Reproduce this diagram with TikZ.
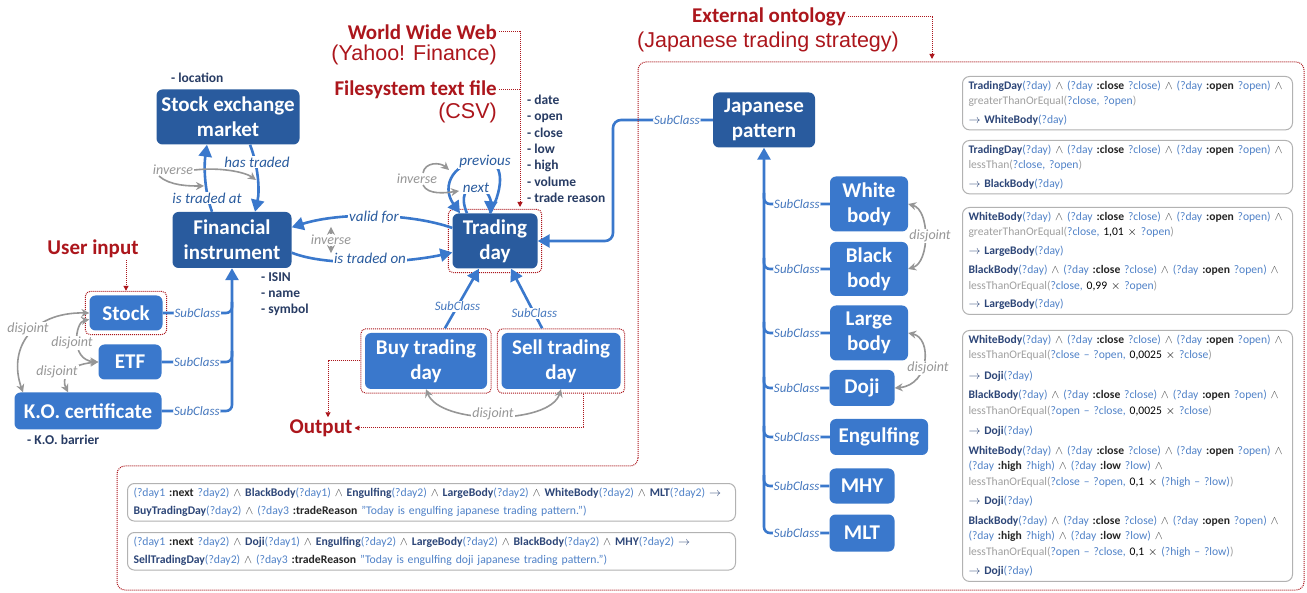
\documentclass[tikz,border=0pt]{standalone}
\usepackage{fontspec}
\setmainfont{Carlito}
\newfontfamily\arialfont{Liberation Sans}
\usetikzlibrary{arrows.meta,fit}

\definecolor{clsdark}{RGB}{41,91,158}
\definecolor{clsmid}{RGB}{58,120,204}
\definecolor{linkblue}{RGB}{58,120,204}
\definecolor{labelblue}{RGB}{70,120,190}
\definecolor{srcred}{RGB}{172,22,28}
\definecolor{hintgray}{RGB}{150,150,150}
\definecolor{attrnavy}{RGB}{40,60,100}
\definecolor{rulenavy}{RGB}{45,70,120}
\definecolor{rulevar}{RGB}{80,130,200}
\definecolor{rulegray}{RGB}{160,160,160}

\newcommand{\rlcls}[1]{{\color{rulenavy}\bfseries #1}}
\newcommand{\rlvar}[1]{{\color{rulevar}#1}}
\newcommand{\rlbin}[1]{{\color{rulegray}#1}}
\newcommand{\rlprop}[1]{{\color{black!85}\bfseries #1}}
\newcommand{\rland}{{\color{black!70}$\wedge$}}
\newcommand{\rlto}{{\color{rulenavy}$\rightarrow$}}
\newcommand{\rlclop}{\rland{} \rlvar{(?day} \rlprop{:close} \rlvar{?close)} \rland{} \rlvar{(?day} \rlprop{:open} \rlvar{?open)} \rland}
\newcommand{\rlhilo}{\rlvar{(?day} \rlprop{:high} \rlvar{?high)} \rland{} \rlvar{(?day} \rlprop{:low} \rlvar{?low)} \rland}

\tikzset{
  dcls/.style={rounded corners=6pt, fill=clsdark, text=white, align=center, inner sep=2pt,
    font=\fontsize{21}{25}\selectfont\bfseries},
  mcls/.style={dcls, fill=clsmid},
  bline/.style={draw=linkblue, line width=2.6pt, >={Triangle[length=12pt,width=13pt]}},
  slabel/.style={fill=white, text=labelblue, inner sep=1pt, font=\fontsize{12.9}{14}\selectfont\itshape},
  plabel/.style={fill=white, text=clsdark, inner sep=1pt, font=\fontsize{15}{17}\selectfont\itshape},
  ilabel/.style={fill=white, text=hintgray, inner sep=1pt, font=\fontsize{14}{16}\selectfont\itshape},
  gline/.style={draw=hintgray, line width=1.6pt, >={Stealth[length=8pt,width=8pt]}},
  reddot/.style={draw=srcred, densely dotted, line width=1pt, >={Triangle[length=5pt,width=5pt]}},
  redframe/.style={draw=srcred, densely dotted, line width=1pt, rounded corners=5pt, inner sep=4pt},
  redtitle/.style={text=srcred, inner sep=2pt, font=\fontsize{21}{24}\selectfont\bfseries},
  redsub/.style={text=srcred, inner sep=2pt, font=\arialfont\fontsize{21.5}{24}\selectfont},
  attr/.style={text=attrnavy, align=left, inner sep=0pt, font=\fontsize{13.5}{16.3}\selectfont\bfseries},
  rulebox/.style={draw=gray!60, line width=1pt, rounded corners=7pt, fill=white, align=left,
    text width=318pt, inner xsep=6pt, inner ysep=4.5pt, font=\fontsize{11.6}{15.5}\selectfont},
}

\begin{document}
\begin{tikzpicture}[x=1pt,y=-1pt]
\fill[white] (0,0) rectangle (1307,593);
\useasboundingbox (0,0) rectangle (1307,593);

\node[dcls, minimum width=143pt, minimum height=55pt] (sem) at (228,117) {Stock exchange\\market};
\node[dcls, minimum width=119pt, minimum height=56pt] (fi) at (232,240) {Financial\\instrument};
\node[mcls, minimum width=73pt, minimum height=35pt] (stock) at (126,313) {Stock};
\node[mcls, minimum width=63pt, minimum height=35pt] (etf) at (130,362) {ETF};
\node[mcls, minimum width=147pt, minimum height=37pt] (ko) at (88,411) {K.O. certificate};
\node[dcls, minimum width=85pt, minimum height=55pt] (td) at (495,241) {Trading\\day};
\node[mcls, minimum width=122pt, minimum height=56pt] (buy) at (426,361) {Buy trading\\day};
\node[mcls, minimum width=119pt, minimum height=56pt] (sell) at (561,361) {Sell trading\\day};

\node[dcls, minimum width=102pt, minimum height=55pt] (jp) at (764,120) {Japanese\\pattern};
\node[mcls, minimum width=78pt, minimum height=55pt] (wb) at (869,204) {White\\body};
\node[mcls, minimum width=78pt, minimum height=54pt] (bb) at (869,269) {Black\\body};
\node[mcls, minimum width=78pt, minimum height=55pt] (lb) at (869,333) {Large\\body};
\node[mcls, minimum width=65pt, minimum height=36pt] (doji) at (862,388) {Doji};
\node[mcls, minimum width=98pt, minimum height=36pt] (eng) at (879,437) {Engulfing};
\node[mcls, minimum width=65pt, minimum height=35pt] (mhy) at (862,486) {MHY};
\node[mcls, minimum width=65pt, minimum height=37pt] (mlt) at (862,533) {MLT};

\node[redframe, fit=(stock)] (stockfr) {};
\node[redframe, fit=(td)] (tdfr) {};
\node[redframe, fit=(buy)] (buyfr) {};
\node[redframe, fit=(sell)] (sellfr) {};

\node[attr, anchor=north west] (semattr) at (171,73) {- location};
\node[attr, anchor=north west] (fiattr) at (261,272) {- ISIN\\- name\\- symbol};
\node[attr, anchor=north west] (koattr) at (27,435) {- K.O. barrier};
\node[attr, anchor=north west] (tdattr) at (527,95) {- date\\- open\\- close\\- low\\- high\\- volume\\- trade reason};

\draw[bline,->,rounded corners=6pt] (ko.east) -| node[slabel,pos=0.25] (sko) {SubClass} (fi.south);
\draw[bline,rounded corners=6pt] (stock.east) -- node[slabel] (sstock) {SubClass} (232,313) -- (232,302);
\draw[bline,rounded corners=6pt] (etf.east) -- node[slabel] (setf) {SubClass} (232,362) -- (232,351);

\draw[bline,->] ([xshift=-20pt]fi.north) .. controls (204,190) and (204,165) .. ([xshift=-21pt]sem.south);
\draw[bline,->] ([xshift=22pt]sem.south) .. controls (258,165) and (260,190) .. ([xshift=23pt]fi.north);
\draw[bline,->] (td.163) .. controls (410,213) and (340,212) .. (fi.12);
\draw[bline,->] (fi.-12) .. controls (330,268) and (410,262) .. (td.-165);
\draw[bline,->] ([xshift=-5pt]td.north) .. controls (505,185) and (503,161) .. (485,161)
  .. controls (455,160) and (440,185) .. ([xshift=-35pt]td.north);
\draw[bline,->] ([xshift=-28pt]td.north) .. controls (460,197) and (465,187) .. (476,187)
  .. controls (487,187) and (491,200) .. ([xshift=-5pt]td.north);

\draw[bline,->] (buyfr.60) -- node[slabel,pos=0.37] (sbuy) {SubClass} (td.-120);
\draw[bline,->] (sellfr.120) -- node[slabel,pos=0.25] (ssell) {SubClass} (td.-60);

\draw[bline,->,rounded corners=8pt] (jp.west) -- node[slabel,pos=0.36] (sjp) {SubClass} (613,120) |- (td.east);
\draw[bline,->,rounded corners=6pt] (mlt.west) -| node[slabel,pos=0.25] (smlt) {SubClass} (jp.south);
\foreach \n in {wb,bb,lb,doji,eng,mhy}
  \draw[bline,rounded corners=6pt] (\n.west) -- node[slabel] (s\n) {SubClass} (\n.west -| jp.south) -- ++(0,-11);

\node[plabel] (lhas) at (257,162) {has traded};
\node[plabel] (ltat) at (207,198) {is traded at};
\node[plabel] (lvalid) at (374,217) {valid for};
\node[plabel] (ltron) at (370,258) {is traded on};
\node[plabel] (lprev) at (485,162) {previous};
\node[plabel] (lnext) at (476,188) {next};

\node[ilabel] (inv1) at (173,170) {inverse};
\draw[gline,->] (inv1.east) .. controls (220,167) and (245,172) .. (256,180);
\draw[gline,->] ([xshift=-14pt]inv1.south) .. controls (170,186) and (190,186) .. (204,186);
\node[ilabel] (inv2) at (331,240) {inverse};
\draw[gline,->] (inv2.north) -- ++(0,-7);
\draw[gline,->] (inv2.south) -- ++(0,7);
\node[ilabel] (inv3) at (417,179) {inverse};
\draw[gline,->] ([xshift=6pt]inv3.north) .. controls (425,162) and (440,162) .. (449,170);
\draw[gline,->] ([xshift=6pt]inv3.south) .. controls (428,195) and (445,193) .. (459,191);

\draw[gline,<->] (stock.west) .. controls (30,312) and (8,350) .. ([xshift=-65pt]ko.north);
\draw[gline,<->] (stock.-170) .. controls (75,322) and (70,360) .. (etf.west);
\draw[gline,<->] (etf.west) .. controls (65,365) and (62,380) .. ([xshift=-20pt]ko.north);
\node[ilabel] (dj1) at (28,329) {disjoint};
\node[ilabel] (dj2) at (72,343) {disjoint};
\node[ilabel] (dj3) at (57,372) {disjoint};

\draw[gline,<->] (buy.south) .. controls (440,425) and (550,425) .. (sell.south);
\node[ilabel] (dj4) at (493,414) {disjoint};
\draw[gline,<->] (wb.east) .. controls (930,210) and (930,262) .. (bb.east);
\node[ilabel] (dj5) at (930,236) {disjoint};
\draw[gline,<->] (lb.east) .. controls (932,338) and (930,385) .. (doji.east);
\node[ilabel] (dj6) at (928,368) {disjoint};

% sources and targets
\node[redtitle, anchor=east] (www) at (499,32) {World Wide Web};
\node[redsub, anchor=east] (yahoo) at (499,55) {(Yahoo! Finance)};
\node[redtitle, anchor=east] (fs) at (499,90) {Filesystem text file};
\node[redsub, anchor=east] (csv) at (499,113) {(CSV)};
\coordinate (srcin) at (520,207);
\draw[reddot,->] (www.east) -| (srcin);
\draw[reddot] (fs.east) -- (fs.east -| srcin);

\node[redtitle] (uin) at (93,249) {User input};
\draw[reddot,->] (uin.south -| stockfr.north) -- (stockfr.north);
\node[redtitle] (outp) at (321,428) {Output};
\draw[reddot,->] (buyfr.west) -| ([xshift=7pt]outp.north);
\draw[reddot,->] (sellfr.-55) |- (outp.east);

\node[redtitle] (ext) at (769,17) {External ontology};
\node[redsub] (jts) at (768,42) {(Japanese trading strategy)};
\draw[reddot,->] (ext.east) -| (932,59);
\draw[reddot, rounded corners=8pt] (638,466) -- (638,62) -- (1304,62) -- (1304,590) -- (117,590) -- (117,466) -- cycle;

% rules
\node[rulebox, anchor=north west] (r1) at (962,76) {%
\rlcls{TradingDay}\rlvar{(?day)} \rlclop\\
\rlbin{greaterThanOrEqual(}\rlvar{?close, ?open}\rlbin{)}\\[3pt]
\rlto{} \rlcls{WhiteBody}\rlvar{(?day)}};
\node[rulebox, anchor=north west] (r2) at (962,140) {%
\rlcls{TradingDay}\rlvar{(?day)} \rlclop\\
\rlbin{lessThan(}\rlvar{?close, ?open}\rlbin{)}\\[3pt]
\rlto{} \rlcls{BlackBody}\rlvar{(?day)}};
\node[rulebox, anchor=north west] (r3) at (962,207) {%
\rlcls{WhiteBody}\rlvar{(?day)} \rlclop\\
\rlbin{greaterThanOrEqual(}\rlvar{?close,} 1,01 $\times$ \rlvar{?open}\rlbin{)}\\[3pt]
\rlto{} \rlcls{LargeBody}\rlvar{(?day)}\\[4pt]
\rlcls{BlackBody}\rlvar{(?day)} \rlclop\\
\rlbin{lessThanOrEqual(}\rlvar{?close,} 0,99 $\times$ \rlvar{?open}\rlbin{)}\\[3pt]
\rlto{} \rlcls{LargeBody}\rlvar{(?day)}};
\node[rulebox, anchor=north west] (r4) at (962,330) {%
\rlcls{WhiteBody}\rlvar{(?day)} \rlclop\\
\rlbin{lessThanOrEqual(}\rlvar{?close – ?open,} 0,0025 $\times$ \rlvar{?close}\rlbin{)}\\[5pt]
\rlto{} \rlcls{Doji}\rlvar{(?day)}\\[4pt]
\rlcls{BlackBody}\rlvar{(?day)} \rlclop\\
\rlbin{lessThanOrEqual(}\rlvar{?open – ?close,} 0,0025 $\times$ \rlvar{?close}\rlbin{)}\\[5pt]
\rlto{} \rlcls{Doji}\rlvar{(?day)}\\[4pt]
\rlcls{WhiteBody}\rlvar{(?day)} \rlclop\\
\rlhilo\\
\rlbin{lessThanOrEqual(}\rlvar{?close – ?open,} 0,1 $\times$ \rlvar{(?high – ?low)}\rlbin{)}\\[4pt]
\rlto{} \rlcls{Doji}\rlvar{(?day)}\\[4pt]
\rlcls{BlackBody}\rlvar{(?day)} \rlclop\\
\rlhilo\\
\rlbin{lessThanOrEqual(}\rlvar{?open – ?close,} 0,1 $\times$ \rlvar{(?high – ?low)}\rlbin{)}\\[4pt]
\rlto{} \rlcls{Doji}\rlvar{(?day)}};

\node[rulebox, anchor=north west, text width=596pt, font=\fontsize{11.7}{18}\selectfont] (b1) at (127,483) {%
\rlvar{(?day1} \rlprop{:next} \rlvar{?day2)} \rland{} \rlcls{BlackBody}\rlvar{(?day1)} \rland{} \rlcls{Engulfing}\rlvar{(?day2)} \rland{} \rlcls{LargeBody}\rlvar{(?day2)} \rland{} \rlcls{WhiteBody}\rlvar{(?day2)} \rland{} \rlcls{MLT}\rlvar{(?day2)} \rlto\\
\rlcls{BuyTradingDay}\rlvar{(?day2)} \rland{} \rlvar{(?day3} \rlprop{:tradeReason} \rlvar{"Today is engulfing japanese trading pattern.")}};
\node[rulebox, anchor=north west, text width=596pt, font=\fontsize{11.7}{18}\selectfont] (b2) at (127,532) {%
\rlvar{(?day1} \rlprop{:next} \rlvar{?day2)} \rland{} \rlcls{Doji}\rlvar{(?day1)} \rland{} \rlcls{Engulfing}\rlvar{(?day2)} \rland{} \rlcls{LargeBody}\rlvar{(?day2)} \rland{} \rlcls{BlackBody}\rlvar{(?day2)} \rland{} \rlcls{MHY}\rlvar{(?day2)} \rlto\\
\rlcls{SellTradingDay}\rlvar{(?day2)} \rland{} \rlvar{(?day3} \rlprop{:tradeReason} \rlvar{"Today is engulfing doji japanese trading pattern.")}};
\end{tikzpicture}
\end{document}
